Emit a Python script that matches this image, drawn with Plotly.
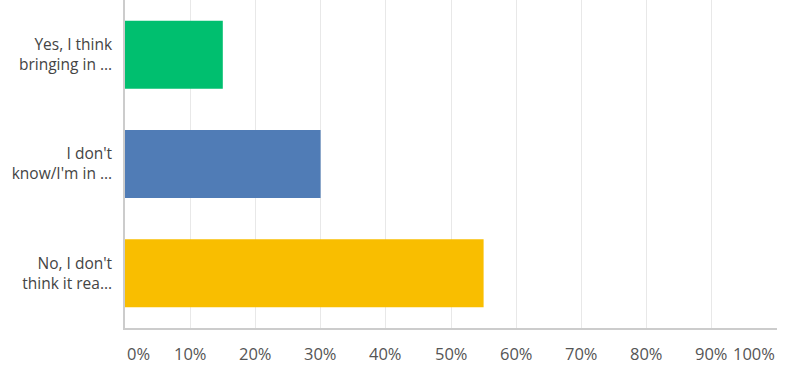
import plotly.graph_objects as go

categories = ["Yes, I think<br>bringing in ...", "I don't<br>know/I'm in ...", "No, I don't<br>think it rea..."]
values = [15, 30, 55]
colors = ["#00BF6F", "#507CB6", "#F9BE00"]
tick_vals = [0, 10, 20, 30, 40, 50, 60, 70, 80, 90, 100]
tick_text = [f"{v}%" for v in tick_vals]

fig = go.Figure()
fig.add_trace(go.Bar(
    y=categories, x=values, orientation="h",
    marker=dict(color=colors, line=dict(width=0)),
    hoverinfo="x+y",
))

for v, t in zip(tick_vals, tick_text):
    anchor = "left" if v == 0 else ("right" if v == 100 else "center")
    fig.add_annotation(x=v, y=0, xref="x", yref="paper", text=t, showarrow=False,
                       xanchor=anchor, yanchor="top", yshift=-12,
                       font=dict(family="Open Sans", size=16.5, color="#555555"))

fig.update_layout(
    width=786, height=372,
    margin=dict(l=125, r=9, t=0, b=44),
    paper_bgcolor="white", plot_bgcolor="white",
    bargap=0.378,
    showlegend=False,
    font=dict(family="Open Sans", size=15.5, color="#444444"),
)
fig.update_xaxes(range=[0, 100], tickvals=tick_vals, showticklabels=False,
                 showgrid=True, gridcolor="#E8E8E8", gridwidth=1,
                 showline=True, linecolor="#CCCCCC", linewidth=1.5,
                 zeroline=False, fixedrange=True)
fig.update_yaxes(autorange="reversed", showgrid=False, showline=True,
                 linecolor="#CCCCCC", linewidth=1.5, ticks="", ticklabelstandoff=8,
                 tickfont=dict(family="Open Sans", size=15.5, color="#444444"),
                 fixedrange=True)

fig.write_html("out.html")
